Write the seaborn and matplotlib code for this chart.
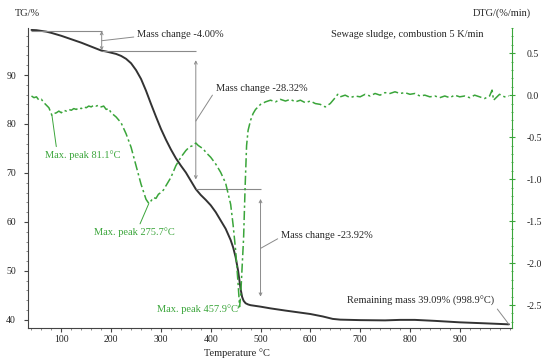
import numpy as np
import pandas as pd
import matplotlib
matplotlib.use('Agg')
import matplotlib.pyplot as plt
from matplotlib.ticker import MultipleLocator
import seaborn as sns

# TG curve (mass %)
tg_temp = [40, 50, 60, 70, 80, 90, 100, 110, 120, 130, 140, 150, 160, 170,
           180, 190, 200, 210, 220, 230, 240, 250, 260, 270, 280, 290, 300,
           310, 320, 330, 340, 350, 360, 370, 380, 390, 400, 410, 420, 430,
           440, 445, 450, 455, 460, 463, 466, 470, 475, 480, 490, 500, 520,
           550, 575, 600, 625, 645, 660, 700, 750, 780, 810, 850, 900, 950,
           998.9]
tg_mass = [99.2, 99.15, 99.0, 98.85, 98.6, 98.3, 98.0, 97.65, 97.3, 96.95,
           96.6, 96.2, 95.8, 95.4, 95.0, 94.8, 94.55, 94.3, 93.9, 93.3, 92.4,
           91.0, 89.2, 86.8, 84.1, 81.5, 79.0, 76.8, 74.8, 73.0, 71.5, 70.1,
           68.4, 66.7, 65.5, 64.5, 63.4, 62.0, 60.3, 58.6, 56.3, 54.8, 52.8,
           50.0, 46.3, 44.7, 43.9, 43.4, 43.15, 43.0, 42.85, 42.7, 42.35,
           41.9, 41.55, 41.2, 40.7, 40.2, 40.05, 39.95, 39.9, 40.0, 40.0,
           39.8, 39.5, 39.3, 39.09]

# DTG curve (%/min)
dtg_temp = [40, 45, 50, 55, 60, 65, 70, 75, 81.1, 85, 90, 95, 100, 105, 110,
            115, 120, 125, 130, 135, 140, 145, 150, 155, 160, 165, 170, 175,
            180, 185, 190, 195, 200, 210, 220, 230, 240, 250, 260, 270, 275.7,
            280, 285, 290, 295, 300, 305, 310, 320, 330, 340, 345, 350, 355,
            360, 365, 370, 375, 380, 385, 390, 400, 410, 420, 430, 440, 445,
            450, 455, 457.9, 460, 463, 466, 469, 472, 475, 480, 485, 490, 495,
            500, 510, 520, 530, 540, 550, 560, 570, 580, 590, 600, 610, 620,
            630, 640, 650, 655, 660, 670, 680, 690, 700, 710, 720, 730, 740,
            750, 760, 770, 780, 790, 800, 810, 820, 830, 840, 850, 860, 870,
            880, 890, 900, 910, 920, 930, 940, 950, 960, 965, 968, 975, 980,
            990, 998.9]
dtg_rate = [-0.01, -0.03, -0.02, -0.06, -0.05, -0.09, -0.12, -0.15, -0.24,
            -0.22, -0.21, -0.19, -0.21, -0.18, -0.19, -0.17, -0.18, -0.16,
            -0.17, -0.15, -0.16, -0.14, -0.15, -0.13, -0.14, -0.12, -0.13,
            -0.12, -0.14, -0.13, -0.17, -0.16, -0.21, -0.26, -0.33, -0.46,
            -0.62, -0.84, -1.06, -1.24, -1.29, -1.26, -1.22, -1.23, -1.18,
            -1.16, -1.13, -1.08, -0.98, -0.84, -0.74, -0.70, -0.66, -0.63,
            -0.61, -0.60, -0.57, -0.60, -0.62, -0.64, -0.68, -0.74, -0.82,
            -0.92, -1.05, -1.30, -1.55, -1.85, -2.25, -2.52, -2.40, -2.05,
            -1.70, -1.10, -0.60, -0.42, -0.30, -0.22, -0.17, -0.14, -0.11,
            -0.08, -0.06, -0.08, -0.05, -0.07, -0.05, -0.08, -0.06, -0.09,
            -0.07, -0.10, -0.11, -0.14, -0.10, -0.03, 0.01, -0.02, 0.00, -0.03,
            -0.01, -0.02, 0.01, -0.01, 0.02, 0.00, 0.03, 0.02, 0.04, 0.02,
            0.03, 0.01, 0.02, -0.01, 0.00, -0.02, -0.01, -0.03, -0.01, -0.03,
            0.00, -0.02, -0.01, -0.03, 0.00, -0.02, -0.04, -0.01, 0.06, -0.06,
            -0.02, 0.01, -0.02, -0.01]

green = '#3aa53a'
gray = '#8a8a8a'

sns.set_style('ticks')
plt.rcParams['font.family'] = ['Liberation Serif', 'DejaVu Serif']
plt.rcParams['font.size'] = 7

fig = plt.figure(figsize=(5.5, 3.63), dpi=100)
ax = fig.add_axes([0.0518, 0.0972, 0.88, 0.8257])
ax2 = ax.twinx()

df_tg = pd.DataFrame({'T': tg_temp, 'TG': tg_mass})
df_dtg = pd.DataFrame({'T': dtg_temp, 'DTG': dtg_rate})

sns.lineplot(data=df_tg, x='T', y='TG', ax=ax, color='#333333', lw=1.4,
             sort=False)
sns.lineplot(data=df_dtg, x='T', y='DTG', ax=ax2, color=green, lw=1.1,
             sort=False, linestyle=(0, (6, 2, 1.5, 2)))

ax.set_xlim(34, 1006)
ax.set_ylim(38.4, 99.6)
ax2.set_ylim(-2.77, 0.80)

ax.xaxis.set_major_locator(MultipleLocator(100))
ax.xaxis.set_minor_locator(MultipleLocator(20))
ax.yaxis.set_major_locator(MultipleLocator(10))
ax.yaxis.set_minor_locator(MultipleLocator(2))
ax2.yaxis.set_major_locator(MultipleLocator(0.5))
ax2.yaxis.set_minor_locator(MultipleLocator(0.1))
ax.set_xticks([100, 200, 300, 400, 500, 600, 700, 800, 900])
ax2.yaxis.set_major_formatter(plt.FuncFormatter(lambda v, p: '%.1f' % v))

for s in ['top', 'right']:
    ax.spines[s].set_visible(False)
for s in ['top', 'left', 'bottom']:
    ax2.spines[s].set_visible(False)
ax.spines['left'].set_color('#444444')
ax.spines['bottom'].set_color('#444444')
ax2.spines['right'].set_color(green)

ax.tick_params(axis='y', which='major', direction='out', length=3, pad=6,
               colors='#444444', labelcolor='#222222', labelsize=7)
ax.tick_params(axis='y', which='minor', direction='out', length=1.5,
               colors='#777777')
ax.tick_params(axis='x', which='major', direction='out', length=3, pad=2,
               colors='#444444', labelcolor='#222222', labelsize=7)
ax.tick_params(axis='x', which='minor', direction='out', length=1.5,
               colors='#777777')
ax2.tick_params(axis='y', which='major', direction='inout', length=4, pad=8,
                colors=green, labelcolor='#222222', labelsize=7)
ax2.tick_params(axis='y', which='minor', direction='inout', length=2,
                colors=green)

ax.set_xlabel('Temperature °C', fontsize=7.5)
ax.xaxis.set_label_coords(0.43, -0.07)
ax.set_ylabel('')
ax2.set_ylabel('')
fig.text(15 / 550, 1 - 13 / 363, 'TG/%', fontsize=7.5, va='center')
fig.text(473 / 550, 1 - 13 / 363, 'DTG/(%/min)', fontsize=7.5, va='center')
ax.text(642, 98.2, 'Sewage sludge, combustion 5 K/min', fontsize=7.5,
        va='center')

# mass change markers
line_kw = dict(color=gray, lw=0.8)
ax.hlines(99.0, 40, 181, **line_kw)
ax.hlines(95.0, 181, 370, **line_kw)
ax.hlines(66.68, 370, 500, **line_kw)
ax.annotate('', xy=(181, 95.0), xytext=(181, 99.0),
            arrowprops=dict(arrowstyle='<->', color=gray, lw=0.7,
                            shrinkA=0, shrinkB=0, mutation_scale=5))
ax.annotate('', xy=(370, 66.68), xytext=(370, 95.0),
            arrowprops=dict(arrowstyle='<->', color=gray, lw=0.7,
                            shrinkA=7, shrinkB=7, mutation_scale=5))
ax.annotate('', xy=(500, 42.76), xytext=(500, 66.68),
            arrowprops=dict(arrowstyle='<->', color=gray, lw=0.7,
                            shrinkA=7, shrinkB=7, mutation_scale=5))

lead = dict(arrowstyle='-', color=gray, lw=0.7, shrinkA=0, shrinkB=0)
ax.annotate('Mass change -4.00%', xy=(181, 97.0), xytext=(252, 98.2),
            va='center', fontsize=7.5, arrowprops=dict(lead, relpos=(0, 0.3)))
ax.annotate('Mass change -28.32%', xy=(370, 80.6), xytext=(410, 87.3),
            va='center', fontsize=7.5, arrowprops=dict(lead, relpos=(0, 0.3)))
ax.annotate('Mass change -23.92%', xy=(500, 54.6), xytext=(541, 57.3),
            va='center', fontsize=7.5, arrowprops=dict(lead, relpos=(0, 0.3)))
ax.annotate('Remaining mass 39.09% (998.9°C)', xy=(998.9, 39.09),
            xytext=(969, 43.9), ha='right', va='center', fontsize=7.5,
            arrowprops=dict(lead, relpos=(1, 0.1)))

# DTG peaks
glead = dict(arrowstyle='-', color=green, lw=0.7, shrinkA=0, shrinkB=0)
ax2.annotate('Max. peak 81.1°C', xy=(81.1, -0.24), xytext=(68, -0.71),
             va='center', fontsize=7.5, color=green,
             arrowprops=dict(glead, relpos=(0.15, 1)))
ax2.annotate('Max. peak 275.7°C', xy=(275.7, -1.29), xytext=(166, -1.63),
             va='center', fontsize=7.5, color=green,
             arrowprops=dict(glead, relpos=(0.55, 1)))
ax2.annotate('Max. peak 457.9°C', xy=(457.9, -2.5), xytext=(292, -2.55),
             va='center', fontsize=7.5, color=green,
             arrowprops=dict(glead, relpos=(1, 0.6)))

fig.savefig('out.png', dpi=100)
